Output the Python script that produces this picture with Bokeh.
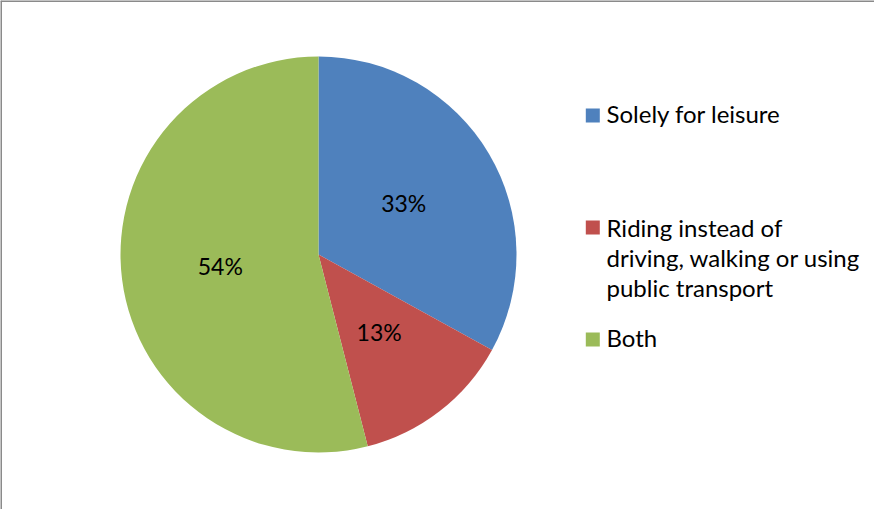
from bokeh.plotting import figure
from bokeh.models import Range1d, Span, ColumnDataSource
from bokeh.core.properties import value
from bokeh.embed import file_html
from bokeh.resources import INLINE
import numpy as np

# ---- data ----
categories = ["Solely for leisure",
              "Riding instead of\ndriving, walking or using\npublic transport",
              "Both"]
shares = [33, 13, 54]
colors = ["#4F81BD", "#C0504D", "#9BBB59"]

W, H = 874, 509
p = figure(width=W, height=H, output_backend="svg", toolbar_location=None,
           x_range=Range1d(0, W), y_range=Range1d(0, H), min_border=0,
           match_aspect=False)
p.axis.visible = False
p.grid.visible = False
p.outline_line_color = None
p.background_fill_color = "white"
p.border_fill_color = "white"

FONT = "Lato"

# frame (top and left edges visible)
p.add_layout(Span(location=0.5, dimension="height", line_color="#8a8a8a", line_width=2))
p.add_layout(Span(location=H - 0.5, dimension="width", line_color="#8a8a8a", line_width=2))

# pie
cx, cy, r = 318, 255, 198
vals = np.array(shares, dtype=float)
frac = vals / vals.sum()
ends = np.pi / 2 - 2 * np.pi * np.cumsum(frac)
starts = np.concatenate([[np.pi / 2], ends[:-1]])
src = ColumnDataSource(dict(start=ends, end=starts, color=colors))
p.wedge(x=cx, y=cy, radius=r, start_angle="start", end_angle="end",
        fill_color="color", line_color=None, source=src)

mids = (starts + ends) / 2
lab = ColumnDataSource(dict(
    x=cx + 0.5 * r * np.cos(mids),
    y=cy + 0.5 * r * np.sin(mids) + 1,
    t=[f"{s}%" for s in shares]))
p.text(x="x", y="y", text="t", source=lab, text_font=value(FONT),
       text_font_size="23px", text_align="center", text_baseline="middle",
       text_color="#000000")

# legend
sq_y = [394, 282, 170]
txt_y = [411, 297, 187]
leg_sq_x = 592.3
for cat, col, sy, ty in zip(categories, colors, sq_y, txt_y):
    p.rect(x=leg_sq_x, y=sy, width=14, height=14, fill_color=col, line_color=None)
    p.text(x=[606], y=[ty], text=[cat], text_font=value(FONT),
           text_font_size="24px", text_align="left", text_baseline="top",
           text_line_height=1.05, text_color="#000000")

open("out.html", "w").write(file_html(p, INLINE))
